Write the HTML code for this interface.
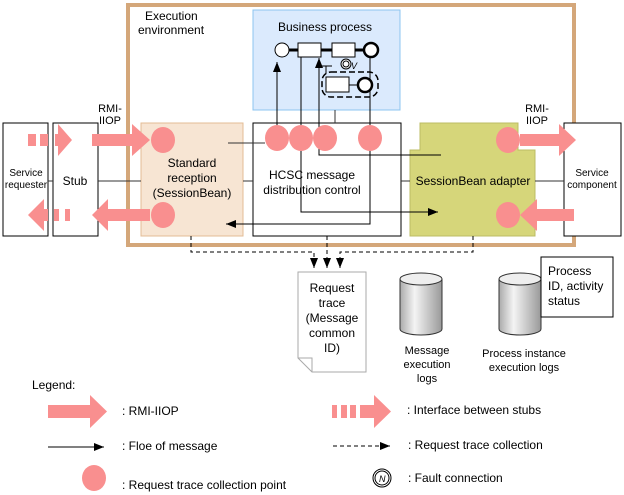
<!DOCTYPE html><html><head><style>body{margin:0;background:#fff}svg{display:block;font-family:"Liberation Sans",Arial,sans-serif}</style></head><body>
<svg width="624" height="495" viewBox="0 0 624 495" xmlns="http://www.w3.org/2000/svg">
<defs>
<marker id="a" markerWidth="10" markerHeight="8" refX="10" refY="4" orient="auto" markerUnits="userSpaceOnUse"><path d="M0,0L10,4L0,8z" fill="#000"/></marker>
<linearGradient id="cy" x1="0" x2="1"><stop offset="0" stop-color="#aaa"/><stop offset=".35" stop-color="#f4f4f4"/><stop offset="1" stop-color="#999"/></linearGradient>
</defs>
<rect x="128" y="5" width="446" height="240" fill="none" stroke="#d4a77a" stroke-width="4"/>
<rect x="253" y="10" width="147" height="100" fill="#dbeafd" stroke="#8cc4f0"/>
<text x="145" y="20" font-size="12">Execution</text><text x="138" y="34" font-size="12">environment</text>
<text x="278" y="31" font-size="12">Business process</text>
<rect x="3" y="123" width="45" height="113" fill="#fff" stroke="#000"/>
<rect x="53" y="123" width="45" height="113" fill="#fff" stroke="#000"/>
<rect x="564" y="123" width="57" height="113" fill="#fff" stroke="#000"/>
<rect x="141" y="123" width="102" height="113" fill="#f7e5d3" stroke="#e3bc94"/>
<rect x="253" y="123" width="148" height="113" fill="#fff" stroke="#000"/>
<path d="M420,123H518V150H535V236H410V150H420Z" fill="#d6d67a" stroke="#bcbc64"/>
<g stroke="#333" fill="none">
<path d="M48,181H53M98,181H141M243,181H253M401,181H410M535,181H564M228,143H265M335,110V123"/>
</g>
<g stroke="#000" fill="none">
<path d="M277,126V62" marker-end="url(#a)"/>
<path d="M441,155H319V58" marker-end="url(#a)"/>
<path d="M301,50V212H438" marker-end="url(#a)"/>
<path d="M370,58V224H226" marker-end="url(#a)"/>
<path d="M320,66H332M326,66V74" />
</g>
<g stroke="#000" stroke-dasharray="4,3" fill="none">
<path d="M191,236V252H314V268" marker-end="url(#a)"/>
<path d="M327,236V268" marker-end="url(#a)"/>
<path d="M473,236V252H340V268" marker-end="url(#a)"/>
</g>
<g stroke="#000" fill="#fff">
<path d="M289,50H298M321,50H332M355,50H363" stroke-width="3"/>
<circle cx="282" cy="50" r="7"/>
<rect x="298" y="43" width="23" height="14"/><rect x="332" y="43" width="23" height="14"/>
<circle cx="371" cy="50" r="7" stroke-width="2.5"/>
<circle cx="346" cy="64" r="5"/><circle cx="346" cy="64" r="3"/>
<rect x="322" y="72" width="56" height="25" rx="9" fill="none" stroke-dasharray="6,3" stroke-width="1.5"/>
<rect x="326" y="77" width="23" height="15"/><path d="M349,85H358" fill="none"/>
<circle cx="365" cy="85" r="7" stroke-width="2.5"/>
</g>
<text x="351" y="69" font-size="9" font-style="italic">V</text>
<g fill="#f98f8f">
<ellipse cx="163" cy="140" rx="12" ry="13"/><ellipse cx="163" cy="215" rx="12" ry="13"/>
<ellipse cx="277" cy="138" rx="12" ry="13"/><ellipse cx="301" cy="138" rx="12" ry="13"/><ellipse cx="325" cy="138" rx="12" ry="13"/><ellipse cx="370" cy="138" rx="12" ry="13"/>
<ellipse cx="508" cy="140" rx="12" ry="13"/><ellipse cx="508" cy="215" rx="12" ry="13"/>
<path d="M92,134H132V124L150,140L132,156V146H92Z"/>
<path d="M28,134H36V146H28ZM40,134H48V146H40ZM55,134H58V124L72,140L58,156V146H55Z"/>
<path d="M150,209H108V199L92,215L108,231V221H150Z"/>
<path d="M70,209H65V221H70ZM59,209H54V221H59ZM48,209H44V199L28,215L44,231V221H48Z"/>
<path d="M520,134H559V124L576,140L559,156V146H520Z"/>
<path d="M574,209H537V199L520,215L537,231V221H574Z"/>
</g>
<g font-size="12" text-anchor="middle">
<text x="192" y="167">Standard</text><text x="192" y="182">reception</text><text x="192" y="197">(SessionBean)</text>
<text x="312" y="179">HCSC message</text><text x="312" y="194">distribution control</text>
<text x="473" y="185">SessionBean adapter</text>
<text x="75" y="185">Stub</text>
<text x="26" y="176" font-size="10">Service</text><text x="26" y="188" font-size="10">requester</text>
<text x="592" y="176" font-size="10">Service</text><text x="592" y="188" font-size="10">component</text>
<text x="110" y="112" font-size="11">RMI-</text><text x="110" y="124" font-size="11">IIOP</text>
<text x="537" y="112" font-size="11">RMI-</text><text x="537" y="124" font-size="11">IIOP</text>
</g>
<path d="M298,272H366V372H312L298,358Z" fill="#fff" stroke="#aaa"/><path d="M298,358H312V372" fill="none" stroke="#aaa"/>
<g font-size="12" text-anchor="middle">
<text x="332" y="292">Request</text><text x="332" y="307">trace</text><text x="332" y="322">(Message</text><text x="332" y="337">common</text><text x="332" y="352">ID)</text>
</g>
<g stroke="#333" fill="url(#cy)">
<path d="M400,279V329A21,6 0 0 0 442,329V279Z"/><ellipse cx="421" cy="279" rx="21" ry="6" fill="#eee"/>
<path d="M499,279V329A21,6 0 0 0 541,329V279Z"/><ellipse cx="520" cy="279" rx="21" ry="6" fill="#eee"/>
</g>
<rect x="541" y="257" width="72" height="60" fill="#fff" stroke="#000"/>
<g font-size="12"><text x="548" y="275">Process</text><text x="548" y="290">ID, activity</text><text x="548" y="305">status</text></g>
<g font-size="11" text-anchor="middle">
<text x="427" y="354">Message</text><text x="427" y="368">execution</text><text x="427" y="382">logs</text>
<text x="524" y="357">Process instance</text><text x="524" y="371">execution logs</text>
</g>
<g font-size="12">
<text x="32" y="389">Legend:</text>
<text x="122" y="415">: RMI-IIOP</text>
<text x="407" y="414">: Interface between stubs</text>
<text x="122" y="450">: Floe of message</text>
<text x="408" y="449">: Request trace collection</text>
<text x="122" y="489">: Request trace collection point</text>
<text x="408" y="482">: Fault connection</text>
</g>
<g fill="#f98f8f">
<path d="M48,405H90V395L107,411.5L90,428V418H48Z"/>
<path d="M332,405H337V418H332ZM341,405H347V418H341ZM350,405H356V418H350ZM360,405H374V395L391,411.5L374,428V418H360Z"/>
<ellipse cx="94" cy="478" rx="12" ry="13"/>
</g>
<path d="M48,447H104" stroke="#000" marker-end="url(#a)"/>
<path d="M333,446H390" stroke="#000" stroke-dasharray="4,3" marker-end="url(#a)"/>
<circle cx="382" cy="478" r="9" fill="none" stroke="#000"/><circle cx="382" cy="478" r="7" fill="none" stroke="#000"/>
<text x="379" y="482" font-size="9" font-style="italic">N</text>
</svg></body></html>
